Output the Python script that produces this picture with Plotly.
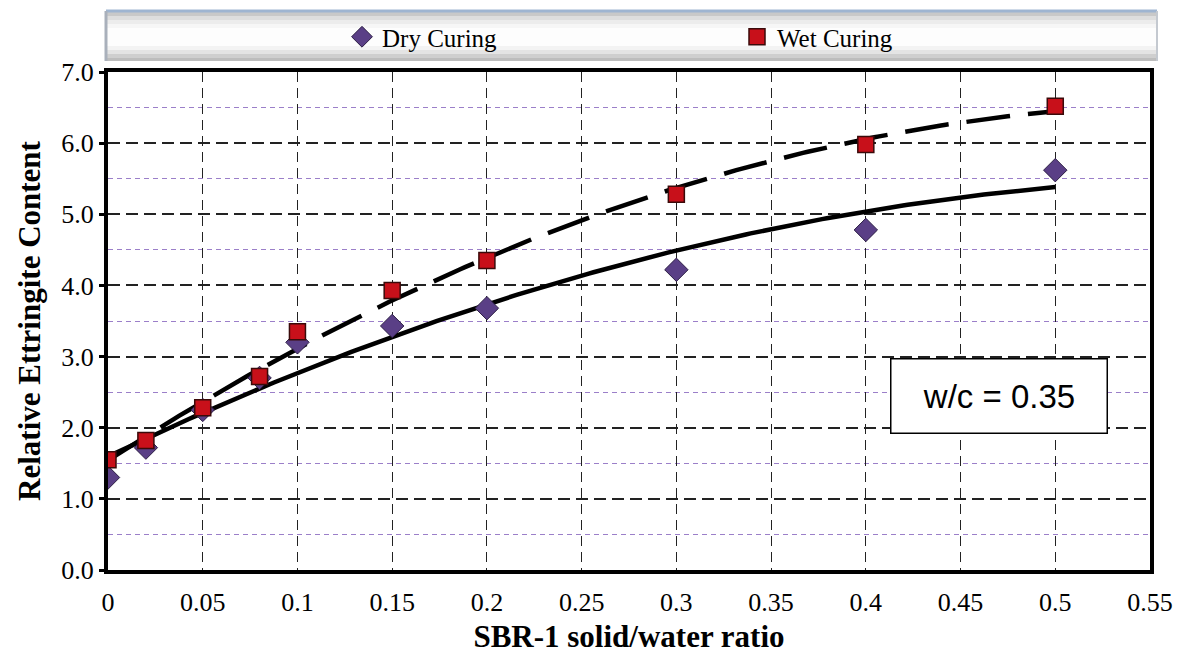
import numpy as np
import plotly.graph_objects as go

# SBR-1 solid/water ratio
ratio = [0, 0.02, 0.05, 0.08, 0.1, 0.15, 0.2, 0.3, 0.4, 0.5]
# Relative ettringite content
dry_curing = [1.30, 1.72, 2.25, 2.70, 3.20, 3.43, 3.68, 4.22, 4.78, 5.62]
wet_curing = [1.55, 1.82, 2.28, 2.72, 3.35, 3.93, 4.35, 5.28, 5.98, 6.52]

x_ticks = [0, 0.05, 0.1, 0.15, 0.2, 0.25, 0.3, 0.35, 0.4, 0.45, 0.5, 0.55]
x_tick_text = ["0", "0.05", "0.1", "0.15", "0.2", "0.25", "0.3", "0.35", "0.4", "0.45", "0.5", "0.55"]
y_ticks = [0, 1, 2, 3, 4, 5, 6, 7]
y_tick_text = ["0.0", "1.0", "2.0", "3.0", "4.0", "5.0", "6.0", "7.0"]

DRY_COLOR = "#5a3f86"
WET_COLOR = "#c8101a"
SERIF = "Liberation Serif, Times New Roman, serif"

# second-order trend lines through each series
xs = np.linspace(0, 0.5, 200)
dry_fit = np.polyval(np.polyfit(ratio, dry_curing, 2), xs)
wet_fit = np.polyval(np.polyfit(ratio, wet_curing, 2), xs)

fig = go.Figure()

fig.add_trace(go.Scatter(x=xs, y=dry_fit, mode="lines", showlegend=False,
                         line=dict(color="black", width=4.5), hoverinfo="skip"))
fig.add_trace(go.Scatter(x=xs, y=wet_fit, mode="lines", showlegend=False,
                         line=dict(color="black", width=4.5, dash="44px,18px"), hoverinfo="skip"))

fig.add_trace(go.Scatter(x=ratio, y=dry_curing, mode="markers", name="Dry Curing",
                         marker=dict(symbol="diamond", size=18, color=DRY_COLOR,
                                     line=dict(color="#2d1f45", width=1))))
fig.add_trace(go.Scatter(x=ratio, y=wet_curing, mode="markers", name="Wet Curing",
                         marker=dict(symbol="square", size=16, color=WET_COLOR,
                                     line=dict(color="#3a0a0a", width=1.5))))

# legend banner above the plotting area: grey-white-grey vertical shading
PLOT_TOP, PLOT_BOTTOM = 72, 570
def py(p):
    return (PLOT_BOTTOM - p) / (PLOT_BOTTOM - PLOT_TOP)

band_x0, band_x1 = (106 - 108) / 1042, (1157 - 108) / 1042
band_rows = [(12, 16, "#c9c9c9"), (16, 20, "#dedede"), (20, 24, "#ececec"), (24, 28, "#f6f6f6"),
             (28, 46, "#fdfdfd"), (46, 50, "#f3f3f3"), (50, 54, "#e4e4e4"), (54, 58, "#cfcfcf"),
             (58, 61, "#bdbdbd")]
for top, bottom, color in band_rows:
    fig.add_shape(type="rect", xref="paper", yref="paper", x0=band_x0, x1=band_x1,
                  y0=py(bottom), y1=py(top), line=dict(width=0), fillcolor=color, layer="below")
fig.add_shape(type="line", xref="paper", yref="paper", x0=band_x0, x1=band_x1, y0=py(11), y1=py(11),
              line=dict(color="#9fb5d1", width=3))
fig.add_shape(type="line", xref="paper", yref="paper", x0=band_x0, x1=band_x0, y0=py(61), y1=py(11),
              line=dict(color="#a9b0bb", width=3))
fig.add_shape(type="line", xref="paper", yref="paper", x0=band_x1, x1=band_x1, y0=py(61), y1=py(11),
              line=dict(color="#c4c9d0", width=2))

fig.add_annotation(xref="x", yref="y", x=0.4705, y=2.45, text="w/c = 0.35", showarrow=False,
                   font=dict(family="Liberation Sans, Arial, sans-serif", size=33, color="black"),
                   bgcolor="white", bordercolor="black", borderwidth=1.5,
                   width=213, height=71, align="center")

fig.update_layout(
    width=1191, height=658,
    margin=dict(l=108, r=41, t=PLOT_TOP, b=658 - PLOT_BOTTOM, autoexpand=False),
    paper_bgcolor="white", plot_bgcolor="white",
    font=dict(family=SERIF, color="black"),
    legend=dict(orientation="h", x=(342 - 108) / 1042, y=py(37), xanchor="left", yanchor="middle",
                bgcolor="rgba(0,0,0,0)", entrywidth=350, entrywidthmode="pixels",
                font=dict(family=SERIF, size=25, color="black")),
    xaxis=dict(range=[0, 0.55], tickvals=x_ticks, ticktext=x_tick_text,
               showline=True, linecolor="black", linewidth=4, mirror=True,
               showgrid=True, gridcolor="#222222", gridwidth=1.3, griddash="10px,6px",
               ticks="", tickfont=dict(size=26, family=SERIF), zeroline=False,
               ticklabelstandoff=6,
               title=dict(text="<b>SBR-1 solid/water ratio</b>",
                          font=dict(size=31, family=SERIF), standoff=10)),
    yaxis=dict(range=[0, 7], tickvals=y_ticks, ticktext=y_tick_text,
               showline=True, linecolor="black", linewidth=4, mirror=True,
               showgrid=True, gridcolor="#222222", gridwidth=1.5, griddash="12px,6px",
               ticks="outside", ticklen=5, tickwidth=3, tickcolor="black",
               tickfont=dict(size=26, family=SERIF), zeroline=False,
               minor=dict(tick0=0.5, dtick=1, showgrid=True, gridcolor="#9b7fc9",
                          gridwidth=1.3, griddash="5px,4px", ticks=""),
               title=dict(text="<b>Relative Ettringite Content</b>",
                          font=dict(size=31, family=SERIF), standoff=12)),
)

fig.write_html("out.html")
